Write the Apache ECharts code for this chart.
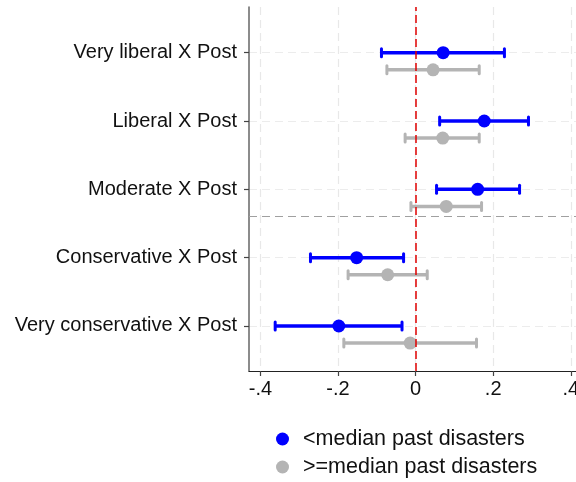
<!DOCTYPE html>
<html>
<head>
<meta charset="utf-8">
<script src="https://cdn.jsdelivr.net/npm/echarts@6/dist/echarts.min.js"></script>
<style>html,body{margin:0;padding:0;background:#fff;}#c{width:576px;height:482px;}</style>
</head>
<body>
<div id="c"></div>
<script>
const categories = ['Very liberal X Post', 'Liberal X Post', 'Moderate X Post', 'Conservative X Post', 'Very conservative X Post'];
const catPos = [5, 4, 3, 2, 1];
const seriesNames = ['<median past disasters', '>=median past disasters'];
const lowEst = [0.071, 0.177, 0.160, -0.152, -0.198];
const lowLo  = [-0.088, 0.062, 0.054, -0.271, -0.362];
const lowHi  = [0.229, 0.291, 0.268, -0.031, -0.035];
const highEst = [0.045, 0.070, 0.079, -0.072, -0.014];
const highLo  = [-0.074, -0.027, -0.012, -0.174, -0.185];
const highHi  = [0.164, 0.164, 0.170, 0.030, 0.157];
const groupOffset = 0.25;
const separatorAt = 2.61;
const xTicks = [-0.4, -0.2, 0, 0.2, 0.4];

const BLUE = '#0000ff', GRAY = '#b4b4b4';
const FONT = 'Liberation Sans, Arial, sans-serif';

function barData(lo, hi, off) { return lo.map((v, i) => [v, hi[i], catPos[i] - off]); }
function ptData(est, off) { return est.map((v, i) => [v, catPos[i] - off]); }

function renderBar(color) {
  return function (params, api) {
    const y = api.value(2);
    const p1 = api.coord([api.value(0), y]);
    const p2 = api.coord([api.value(1), y]);
    const h = 4;
    return {
      type: 'group',
      children: [
        { type: 'line', shape: { x1: p1[0], y1: p1[1], x2: p2[0], y2: p2[1] }, style: { stroke: color, lineWidth: 3.5 } },
        { type: 'line', shape: { x1: p1[0], y1: p1[1] - h, x2: p1[0], y2: p1[1] + h }, style: { stroke: color, lineWidth: 3, lineCap: 'round' } },
        { type: 'line', shape: { x1: p2[0], y1: p2[1] - h, x2: p2[0], y2: p2[1] + h }, style: { stroke: color, lineWidth: 3, lineCap: 'round' } }
      ]
    };
  };
}

const fmtX = v => (Math.abs(v) < 1e-9 ? '0' : v.toFixed(1).replace('0.', '.'));

function legendFor(name, color, top) {
  return {
    orient: 'vertical', left: 276, top: top, padding: 0,
    icon: 'circle', itemWidth: 13, itemHeight: 13, itemGap: 0,
    data: [{ name: name, itemStyle: { color: color } }],
    selectedMode: false,
    textStyle: { fontSize: 21.5, color: '#111', fontFamily: FONT, padding: [0, 0, 0, 9] }
  };
}

const chart = echarts.init(document.getElementById('c'), null, { renderer: 'canvas' });
chart.setOption({
  animation: false,
  backgroundColor: '#fff',
  textStyle: { fontFamily: FONT },
  grid: { left: 249, right: 0, top: 7, bottom: 111, containLabel: false, outerBoundsMode: 'none' },
  xAxis: {
    type: 'value', min: -0.4295, max: 0.4135,
    axisLine: { show: true, onZero: false, lineStyle: { color: '#222', width: 1.2 } },
    axisTick: { show: true, length: 5, customValues: xTicks, lineStyle: { color: '#444', width: 1.2 } },
    axisLabel: { customValues: xTicks, formatter: fmtX, fontSize: 20, color: '#111', margin: 8, fontFamily: FONT },
    splitLine: { show: true, lineStyle: { color: '#e8e8e8', type: [8, 5], width: 1.2 } }
  },
  yAxis: {
    type: 'value', min: 0.341, max: 5.669,
    axisLine: { show: true, onZero: false, lineStyle: { color: '#666', width: 1.5 } },
    axisTick: { show: true, length: 5, customValues: catPos, lineStyle: { color: '#444', width: 1.2 } },
    axisLabel: { customValues: catPos, formatter: v => categories[catPos.indexOf(Math.round(v))] || '', fontSize: 20, color: '#111', margin: 12, fontFamily: FONT },
    splitLine: { show: true, lineStyle: { color: '#ececec', type: [8, 5], width: 1.2 } }
  },
  legend: [legendFor(seriesNames[0], BLUE, 428), legendFor(seriesNames[1], GRAY, 456)],
  series: [
    {
      type: 'scatter', data: [], silent: true, z: 1,
      markLine: {
        silent: true, symbol: 'none', label: { show: false },
        data: [
          { xAxis: 0, lineStyle: { color: '#e00000', type: [8, 4], width: 1.5 } },
          { yAxis: separatorAt, lineStyle: { color: '#a0a0a0', type: [8, 5], width: 1.2 } }
        ]
      }
    },
    { type: 'scatter', name: seriesNames[1], data: ptData(highEst, groupOffset), symbolSize: 13, itemStyle: { color: GRAY, opacity: 1 }, z: 4 },
    { type: 'custom', name: seriesNames[1], renderItem: renderBar(GRAY), itemStyle: { color: GRAY }, data: barData(highLo, highHi, groupOffset), encode: { x: [0, 1], y: 2 }, z: 3 },
    { type: 'scatter', name: seriesNames[0], data: ptData(lowEst, 0), symbolSize: 13, itemStyle: { color: BLUE, opacity: 1 }, z: 4 },
    { type: 'custom', name: seriesNames[0], renderItem: renderBar(BLUE), itemStyle: { color: BLUE }, data: barData(lowLo, lowHi, 0), encode: { x: [0, 1], y: 2 }, z: 3 }
  ]
});
</script>
</body>
</html>
